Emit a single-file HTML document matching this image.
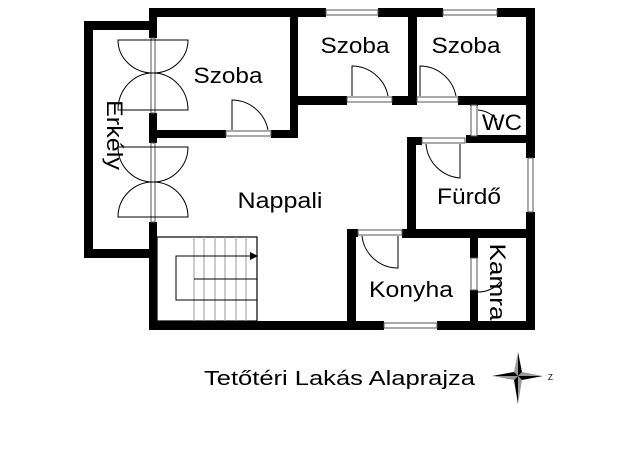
<!DOCTYPE html>
<html><head><meta charset="utf-8"><style>html,body{margin:0;padding:0;background:#fff}svg{display:block}</style></head>
<body>
<svg width="640" height="452" viewBox="0 0 640 452" xmlns="http://www.w3.org/2000/svg" font-family="Liberation Sans, Arial, sans-serif">
<rect width="640" height="452" fill="#fff"/>
<g fill="#000">
<rect x="149" y="8" width="177" height="9"/>
<rect x="378" y="8" width="65" height="9"/>
<rect x="497" y="8" width="38" height="9"/>
<rect x="526" y="8" width="9" height="150"/>
<rect x="526" y="212" width="9" height="118"/>
<rect x="149" y="321" width="235" height="9"/>
<rect x="437" y="321" width="98" height="9"/>
<rect x="149" y="8" width="8" height="30"/>
<rect x="149" y="113" width="8" height="30"/>
<rect x="149" y="222" width="8" height="108"/>
<rect x="84" y="21" width="73" height="9"/>
<rect x="84" y="21" width="9" height="237"/>
<rect x="84" y="249" width="73" height="9"/>
<rect x="157" y="130" width="69" height="8"/>
<rect x="271" y="130" width="27" height="8"/>
<rect x="290" y="8" width="8" height="130"/>
<rect x="298" y="96" width="49" height="9"/>
<rect x="392" y="96" width="25" height="9"/>
<rect x="408" y="8" width="9" height="97"/>
<rect x="458" y="96" width="77" height="9"/>
<rect x="470" y="100" width="8" height="6"/>
<rect x="466" y="135" width="69" height="8"/>
<rect x="407" y="137" width="15" height="8"/>
<rect x="407" y="137" width="9" height="101"/>
<rect x="407" y="229" width="128" height="9"/>
<rect x="347" y="229" width="9" height="101"/>
<rect x="347" y="229" width="11" height="8"/>
<rect x="402" y="229" width="14" height="9"/>
<rect x="470" y="238" width="8" height="20"/>
<rect x="470" y="290" width="8" height="40"/>
</g>
<g fill="#fff" stroke="#555" stroke-width="1">
<rect x="326" y="10" width="52" height="5"/>
<rect x="443" y="10" width="54" height="5"/>
<rect x="528" y="158" width="5" height="54"/>
<rect x="384" y="323" width="53" height="5"/>
<rect x="226" y="131" width="45" height="5"/>
<rect x="347" y="97" width="45" height="5"/>
<rect x="417" y="97" width="41" height="5"/>
<rect x="422" y="138" width="43" height="5"/>
<rect x="358" y="230" width="44" height="5"/>
<rect x="471" y="105" width="6" height="31"/>
<rect x="471" y="258" width="6" height="32"/>
<rect x="151" y="38" width="4" height="75"/>
<rect x="151" y="143" width="4" height="79"/>
</g>
<g fill="none" stroke="#000" stroke-width="1">
<path d="M232 130 V100 A37 37 0 0 1 268 130"/>
<path d="M352 96 V66 A37 37 0 0 1 388 96"/>
<path d="M420 96 V66 A37 37 0 0 1 456 96"/>
<path d="M426 144 A37 37 0 0 0 460 178 V144"/>
<path d="M362 236 A36 36 0 0 0 398 268 V236"/>
<path d="M478 110 A28 28 0 0 1 497 120"/>
<path d="M478 292 A28 28 0 0 0 500 282"/>
<path d="M118 40 H188 A35 33 0 0 1 118 40 Z"/>
<path d="M118 110 H188 A35 37 0 0 0 118 110 Z"/>
<path d="M118 147 H188 A35 35 0 0 1 118 147 Z"/>
<path d="M118 217 H188 A35 35 0 0 0 118 217 Z"/>
</g>
<rect x="157" y="237" width="100" height="84" fill="none" stroke="#000" stroke-width="1.2"/>
<g stroke="#999" stroke-width="1">
<line x1="194" y1="237" x2="194" y2="321"/><line x1="204" y1="237" x2="204" y2="321"/>
<line x1="215" y1="237" x2="215" y2="321"/><line x1="225" y1="237" x2="225" y2="321"/>
<line x1="236" y1="237" x2="236" y2="321"/><line x1="246" y1="237" x2="246" y2="321"/>
</g>
<g fill="none" stroke="#000" stroke-width="1">
<path d="M250 256 H176 V300 H257"/>
<path d="M194 279 H257"/>
</g>
<path d="M250 252 L258 256 L250 260 Z" fill="#000"/>
<g font-size="22" fill="#000">
<text x="228" y="83" text-anchor="middle" textLength="69" lengthAdjust="spacingAndGlyphs">Szoba</text>
<text x="355" y="53" text-anchor="middle" textLength="69" lengthAdjust="spacingAndGlyphs">Szoba</text>
<text x="466" y="53" text-anchor="middle" textLength="69" lengthAdjust="spacingAndGlyphs">Szoba</text>
<text x="280" y="208" text-anchor="middle" textLength="85" lengthAdjust="spacingAndGlyphs">Nappali</text>
<text x="469" y="204" text-anchor="middle" textLength="64" lengthAdjust="spacingAndGlyphs">Fürdő</text>
<text x="411" y="297" text-anchor="middle" textLength="84" lengthAdjust="spacingAndGlyphs">Konyha</text>
<text x="502" y="130" text-anchor="middle" textLength="40" lengthAdjust="spacingAndGlyphs">WC</text>
<text transform="translate(107,135) rotate(90)" text-anchor="middle" textLength="70" lengthAdjust="spacingAndGlyphs">Erkély</text>
<text transform="translate(490,282) rotate(90)" text-anchor="middle" textLength="77" lengthAdjust="spacingAndGlyphs">Kamra</text>
<text x="204" y="385" font-size="20" textLength="271" lengthAdjust="spacingAndGlyphs">Tetőtéri Lakás Alaprajza</text>
</g>
<g transform="translate(518,376)">
<path d="M0 -24 L4 -4 L0 0 Z" fill="#000"/><path d="M0 -24 L-4 -4 L0 0 Z" fill="#999"/>
<path d="M0 28 L-4 4 L0 0 Z" fill="#000"/><path d="M0 28 L4 4 L0 0 Z" fill="#999"/>
<path d="M-26 0 L-4 -4 L0 0 Z" fill="#000"/><path d="M-26 0 L-4 4 L0 0 Z" fill="#999"/>
<path d="M25 0 L4 4 L0 0 Z" fill="#000"/><path d="M25 0 L4 -4 L0 0 Z" fill="#999"/>
<text x="30" y="4" font-size="8" fill="#000">Z</text>
</g>
</svg>
</body></html>
